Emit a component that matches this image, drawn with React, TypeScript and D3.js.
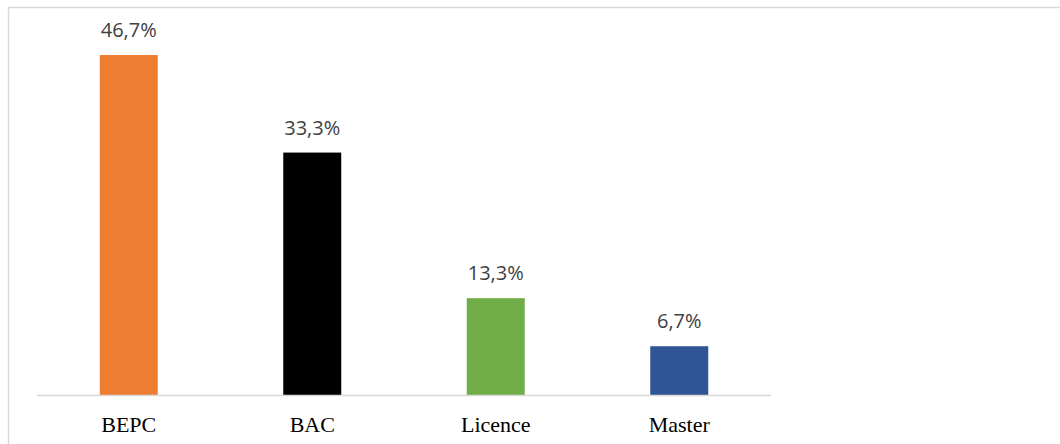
import React, { useEffect, useRef } from 'react';
import * as d3 from 'd3';

const categories = ['BEPC', 'BAC', 'Licence', 'Master'];
const values = [46.7, 33.3, 13.3, 6.7];
const valueLabels = ['46,7%', '33,3%', '13,3%', '6,7%'];
const barColors = ['#ED7D31', '#000000', '#70AD47', '#2F5597'];

const App: React.FC = () => {
  const svgRef = useRef<SVGSVGElement>(null);

  useEffect(() => {
    if (!svgRef.current) return;
    const width = 1060;
    const height = 444;

    const svg = d3.select(svgRef.current);
    svg.selectAll('*').remove();
    svg.attr('width', width).attr('height', height);

    // Chart frame (runs off the right and bottom edges)
    svg.append('rect')
      .attr('x', 8.5)
      .attr('y', 7.5)
      .attr('width', 1200)
      .attr('height', 600)
      .style('fill', '#fff')
      .style('stroke', '#D9D9D9')
      .style('stroke-width', 1.5);

    const plot = { left: 37, right: 771, bottom: 395 };

    const x = d3.scaleBand<string>()
      .domain(categories)
      .range([plot.left, plot.right])
      .padding(0);

    const y = d3.scaleLinear()
      .domain([0, 50])
      .range([plot.bottom, plot.bottom - 364]);

    const barW = x.bandwidth() * 0.316;

    const g = svg.append('g');

    g.selectAll('.bar')
      .data(values)
      .enter()
      .append('rect')
      .attr('class', 'bar')
      .attr('x', (d, i) => x(categories[i])! + (x.bandwidth() - barW) / 2)
      .attr('y', d => y(d))
      .attr('width', barW)
      .attr('height', d => y(0) - y(d))
      .style('fill', (d, i) => barColors[i]);

    // Axis line
    g.append('line')
      .attr('x1', plot.left)
      .attr('x2', plot.right)
      .attr('y1', plot.bottom + 0.5)
      .attr('y2', plot.bottom + 0.5)
      .style('stroke', '#D9D9D9')
      .style('stroke-width', 1.5);

    // Value labels
    g.selectAll('.val')
      .data(values)
      .enter()
      .append('text')
      .attr('class', 'val')
      .attr('x', (d, i) => x(categories[i])! + x.bandwidth() / 2)
      .attr('y', d => y(d) - 18)
      .attr('text-anchor', 'middle')
      .style('font-family', '"Open Sans", sans-serif')
      .style('font-size', '20px')
      .style('fill', '#404040')
      .text((d, i) => valueLabels[i]);

    // Category labels
    g.selectAll('.cat')
      .data(categories)
      .enter()
      .append('text')
      .attr('class', 'cat')
      .attr('x', d => x(d)! + x.bandwidth() / 2)
      .attr('y', 432)
      .attr('text-anchor', 'middle')
      .style('font-family', '"Liberation Serif", "Times New Roman", serif')
      .style('font-size', '22px')
      .style('fill', '#000')
      .text(d => d);
  }, []);

  return (
    <div style={{ position: 'fixed', left: 0, top: 0, width: 1060, height: 444, overflow: 'hidden', background: '#fff' }}>
      <svg ref={svgRef} style={{ display: 'block' }} />
    </div>
  );
};

export default App;
